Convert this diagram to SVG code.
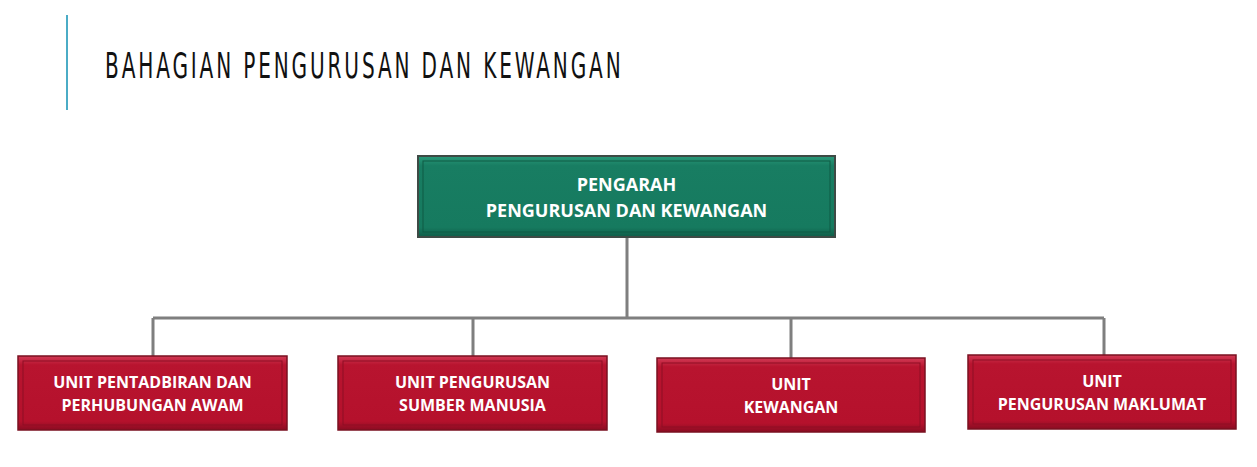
<svg xmlns="http://www.w3.org/2000/svg" width="1257" height="467" viewBox="0 0 1257 467">
<defs>
<linearGradient id="bevG" x1="0" y1="0" x2="0" y2="1">
<stop offset="0" stop-color="#2a9a7a"/><stop offset="0.12" stop-color="#187d62"/><stop offset="0.88" stop-color="#167a5f"/><stop offset="1" stop-color="#0f5c47"/>
</linearGradient>
<linearGradient id="bevR" x1="0" y1="0" x2="0" y2="1">
<stop offset="0" stop-color="#d23a55"/><stop offset="0.12" stop-color="#b8142f"/><stop offset="0.88" stop-color="#b5112c"/><stop offset="1" stop-color="#8a0c22"/>
</linearGradient>
</defs>
<style>
.g{fill:url(#bevG);stroke:#3e4a45;stroke-width:2}
.r{fill:url(#bevR);stroke:#7a1020;stroke-width:1.5}
.in{fill:none;stroke-width:1}
.t{font-family:"Open Sans","Liberation Sans",sans-serif;font-weight:bold;font-size:16px;fill:#ffffff;text-anchor:middle}
.tl{font-size:18px}
.c{stroke:#7f7f7f;stroke-width:3;fill:none}
</style>
<rect width="1257" height="467" fill="#ffffff"/>
<line x1="67" y1="15" x2="67" y2="110" stroke="#4bacc6" stroke-width="2"/>
<text transform="scale(0.62 1)" x="169.4" y="78" font-family="'Liberation Sans Narrow','DejaVu Sans Condensed',sans-serif" font-size="36" fill="#111111" letter-spacing="7" textLength="838.7" lengthAdjust="spacing">BAHAGIAN PENGURUSAN DAN KEWANGAN</text>
<g id="connectors">
<path class="c" d="M627 237V318M153 318H1104M153 318V356M473 318V356M791 318V358M1104 318V355"/>
</g>
<g id="n0">
<rect class="g" x="418" y="156" width="417" height="81"/>
<rect class="in" x="423" y="161" width="407" height="71" stroke="#0f5a45"/>
<text class="t tl" x="626.5" y="191">PENGARAH</text>
<text class="t tl" x="626.5" y="217">PENGURUSAN DAN KEWANGAN</text>
</g>
<g id="n1">
<rect class="r" x="18" y="356" width="269" height="74"/>
<rect class="in" x="23" y="361" width="259" height="64" stroke="#8e0e24"/>
<text class="t" x="152.5" y="388">UNIT PENTADBIRAN DAN</text>
<text class="t" x="152.5" y="411">PERHUBUNGAN AWAM</text>
</g>
<g id="n2">
<rect class="r" x="338" y="356" width="269" height="74"/>
<rect class="in" x="343" y="361" width="259" height="64" stroke="#8e0e24"/>
<text class="t" x="472.5" y="388">UNIT PENGURUSAN</text>
<text class="t" x="472.5" y="411">SUMBER MANUSIA</text>
</g>
<g id="n3">
<rect class="r" x="657" y="358" width="268" height="74"/>
<rect class="in" x="662" y="363" width="258" height="64" stroke="#8e0e24"/>
<text class="t" x="791" y="390">UNIT</text>
<text class="t" x="791" y="413">KEWANGAN</text>
</g>
<g id="n4">
<rect class="r" x="968" y="355" width="268" height="74"/>
<rect class="in" x="973" y="360" width="258" height="64" stroke="#8e0e24"/>
<text class="t" x="1102" y="387">UNIT</text>
<text class="t" x="1102" y="410">PENGURUSAN MAKLUMAT</text>
</g>
</svg>
